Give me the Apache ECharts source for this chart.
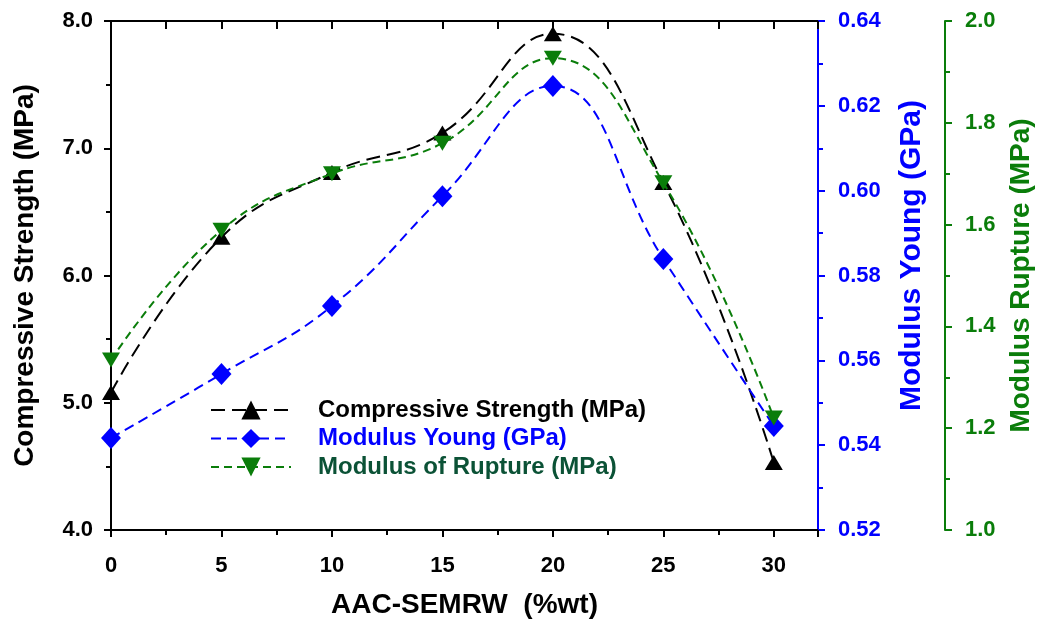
<!DOCTYPE html>
<html><head><meta charset="utf-8">
<script src="https://cdn.jsdelivr.net/npm/echarts@6/dist/echarts.min.js"></script>
<style>html,body{margin:0;padding:0;background:#fff;overflow:hidden}#c{width:1040px;height:622px}</style>
</head><body><div id="c"></div>
<script>
const xValues = [0, 5, 10, 15, 20, 25, 30];
const compressive = [5.08, 6.30, 6.81, 7.12, 7.90, 6.73, 4.53];
const young = [0.5417, 0.5568, 0.5728, 0.5987, 0.6247, 0.5839, 0.5445];
const rupture = [1.334, 1.589, 1.700, 1.760, 1.927, 1.682, 1.220];
const seriesNames = ['Compressive Strength (MPa)', 'Modulus Young (GPa)', 'Modulus of Rupture (MPa)'];
const axisNames = ['Compressive Strength (MPa)', 'Modulus Young (GPa)', 'Modulus Rupture (MPa)'];
const xName = 'AAC-SEMRW  (%wt)';

const FONT = 'Liberation Sans, Arial, sans-serif';
const BLACK = '#000000', BLUE = '#0000ff', GREEN = '#0a7d0a', LEG_GREEN = '#0b5236';

function pairs(vals){ return xValues.map((x,i)=>[x, vals[i]]); }

const chart = echarts.init(document.getElementById('c'), null, {renderer:'canvas'});
const tickLbl = (c)=>({color:c, fontFamily:FONT, fontWeight:'bold', fontSize:22});
const titleStyle = (c,s)=>({color:c, fontFamily:FONT, fontWeight:'bold', fontSize:s});
chart.setOption({
  animation:false,
  backgroundColor:'#fff',
  grid:{left:111, right:222, top:21, bottom:92, containLabel:false, outerBoundsMode:'none'},
  legend:{
    orient:'vertical', left:205, top:393, itemWidth:80, itemHeight:24, itemGap:4.5,
    data:[
      {name:seriesNames[0], textStyle:{color:BLACK}},
      {name:seriesNames[1], textStyle:{color:BLUE}},
      {name:seriesNames[2], textStyle:{color:LEG_GREEN}}
    ],
    textStyle:{fontFamily:FONT, fontWeight:'bold', fontSize:24, lineHeight:24, padding:[0,0,0,22]}
  },
  xAxis:[{
    type:'value', min:0, max:32, interval:5, position:'bottom',
    name:xName, nameLocation:'middle', nameGap:61,
    nameTextStyle:titleStyle(BLACK,28),
    axisLine:{show:true, onZero:false, lineStyle:{color:BLACK, width:2}},
    axisTick:{show:true, inside:false, length:7, lineStyle:{color:BLACK, width:2}},
    minorTick:{show:true, splitNumber:2, length:5, lineStyle:{color:BLACK, width:2}},
    axisLabel:Object.assign(tickLbl(BLACK),{margin:25, showMaxLabel:false, formatter:v=>v>30?'':String(v)}),
    splitLine:{show:false}, minorSplitLine:{show:false}
  },{
    type:'value', min:0, max:32, interval:5, position:'top',
    axisLine:{show:true, onZero:false, lineStyle:{color:BLACK, width:2}},
    axisTick:{show:true, inside:true, length:8, lineStyle:{color:BLACK, width:2}},
    minorTick:{show:true, splitNumber:2, length:8, lineStyle:{color:BLACK, width:2}},
    axisLabel:{show:false}, splitLine:{show:false}
  }],
  yAxis:[{
    type:'value', min:4, max:8, interval:1, position:'left',
    name:axisNames[0], nameLocation:'middle', nameGap:72, nameRotate:90,
    nameTextStyle:titleStyle(BLACK,28),
    axisLine:{show:true, onZero:false, lineStyle:{color:BLACK, width:2}},
    axisTick:{show:true, inside:false, length:7, lineStyle:{color:BLACK, width:2}},
    minorTick:{show:true, splitNumber:2, length:5, lineStyle:{color:BLACK, width:2}},
    axisLabel:Object.assign(tickLbl(BLACK),{margin:18, formatter:v=>v.toFixed(1)}),
    splitLine:{show:false}
  },{
    type:'value', min:0.52, max:0.64, interval:0.02, position:'right', offset:0,
    name:axisNames[1], nameLocation:'middle', nameGap:79, nameRotate:90,
    nameTextStyle:Object.assign(titleStyle(BLUE,30),{padding:[0,0,0,40]}),
    axisLine:{show:true, onZero:false, lineStyle:{color:BLUE, width:2}},
    axisTick:{show:true, inside:false, length:7, lineStyle:{color:BLUE, width:2}},
    minorTick:{show:true, splitNumber:2, length:5, lineStyle:{color:BLUE, width:2}},
    axisLabel:Object.assign(tickLbl(BLUE),{margin:20, formatter:v=>v.toFixed(2)}),
    splitLine:{show:false}
  },{
    type:'value', min:1.0, max:2.0, interval:0.2, position:'right', offset:127,
    name:axisNames[2], nameLocation:'middle', nameGap:62, nameRotate:90,
    nameTextStyle:titleStyle(GREEN,28),
    axisLine:{show:true, onZero:false, lineStyle:{color:GREEN, width:2}},
    axisTick:{show:true, inside:false, length:7, lineStyle:{color:GREEN, width:2}},
    minorTick:{show:true, splitNumber:2, length:5, lineStyle:{color:GREEN, width:2}},
    axisLabel:Object.assign(tickLbl(GREEN),{margin:20, formatter:v=>v.toFixed(1)}),
    splitLine:{show:false}
  }],
  series:[{
    name:seriesNames[0], type:'line', xAxisIndex:0, yAxisIndex:0, smooth:0.45,
    data:pairs(compressive), symbol:'triangle', symbolSize:[18,15], z:3,
    itemStyle:{color:BLACK}, lineStyle:{color:BLACK, width:2, type:[14,7]}
  },{
    name:seriesNames[1], type:'line', xAxisIndex:0, yAxisIndex:1, smooth:0.45,
    data:pairs(young), symbol:'diamond', symbolSize:[20,22], z:4,
    itemStyle:{color:BLUE}, lineStyle:{color:BLUE, width:2, type:[10,6]}
  },{
    name:seriesNames[2], type:'line', xAxisIndex:0, yAxisIndex:2, smooth:0.45,
    data:pairs(rupture), symbol:'triangle', symbolRotate:180, symbolSize:[18,15], z:5,
    itemStyle:{color:GREEN}, lineStyle:{color:GREEN, width:2, type:[8,5]}
  }]
});
</script></body></html>
